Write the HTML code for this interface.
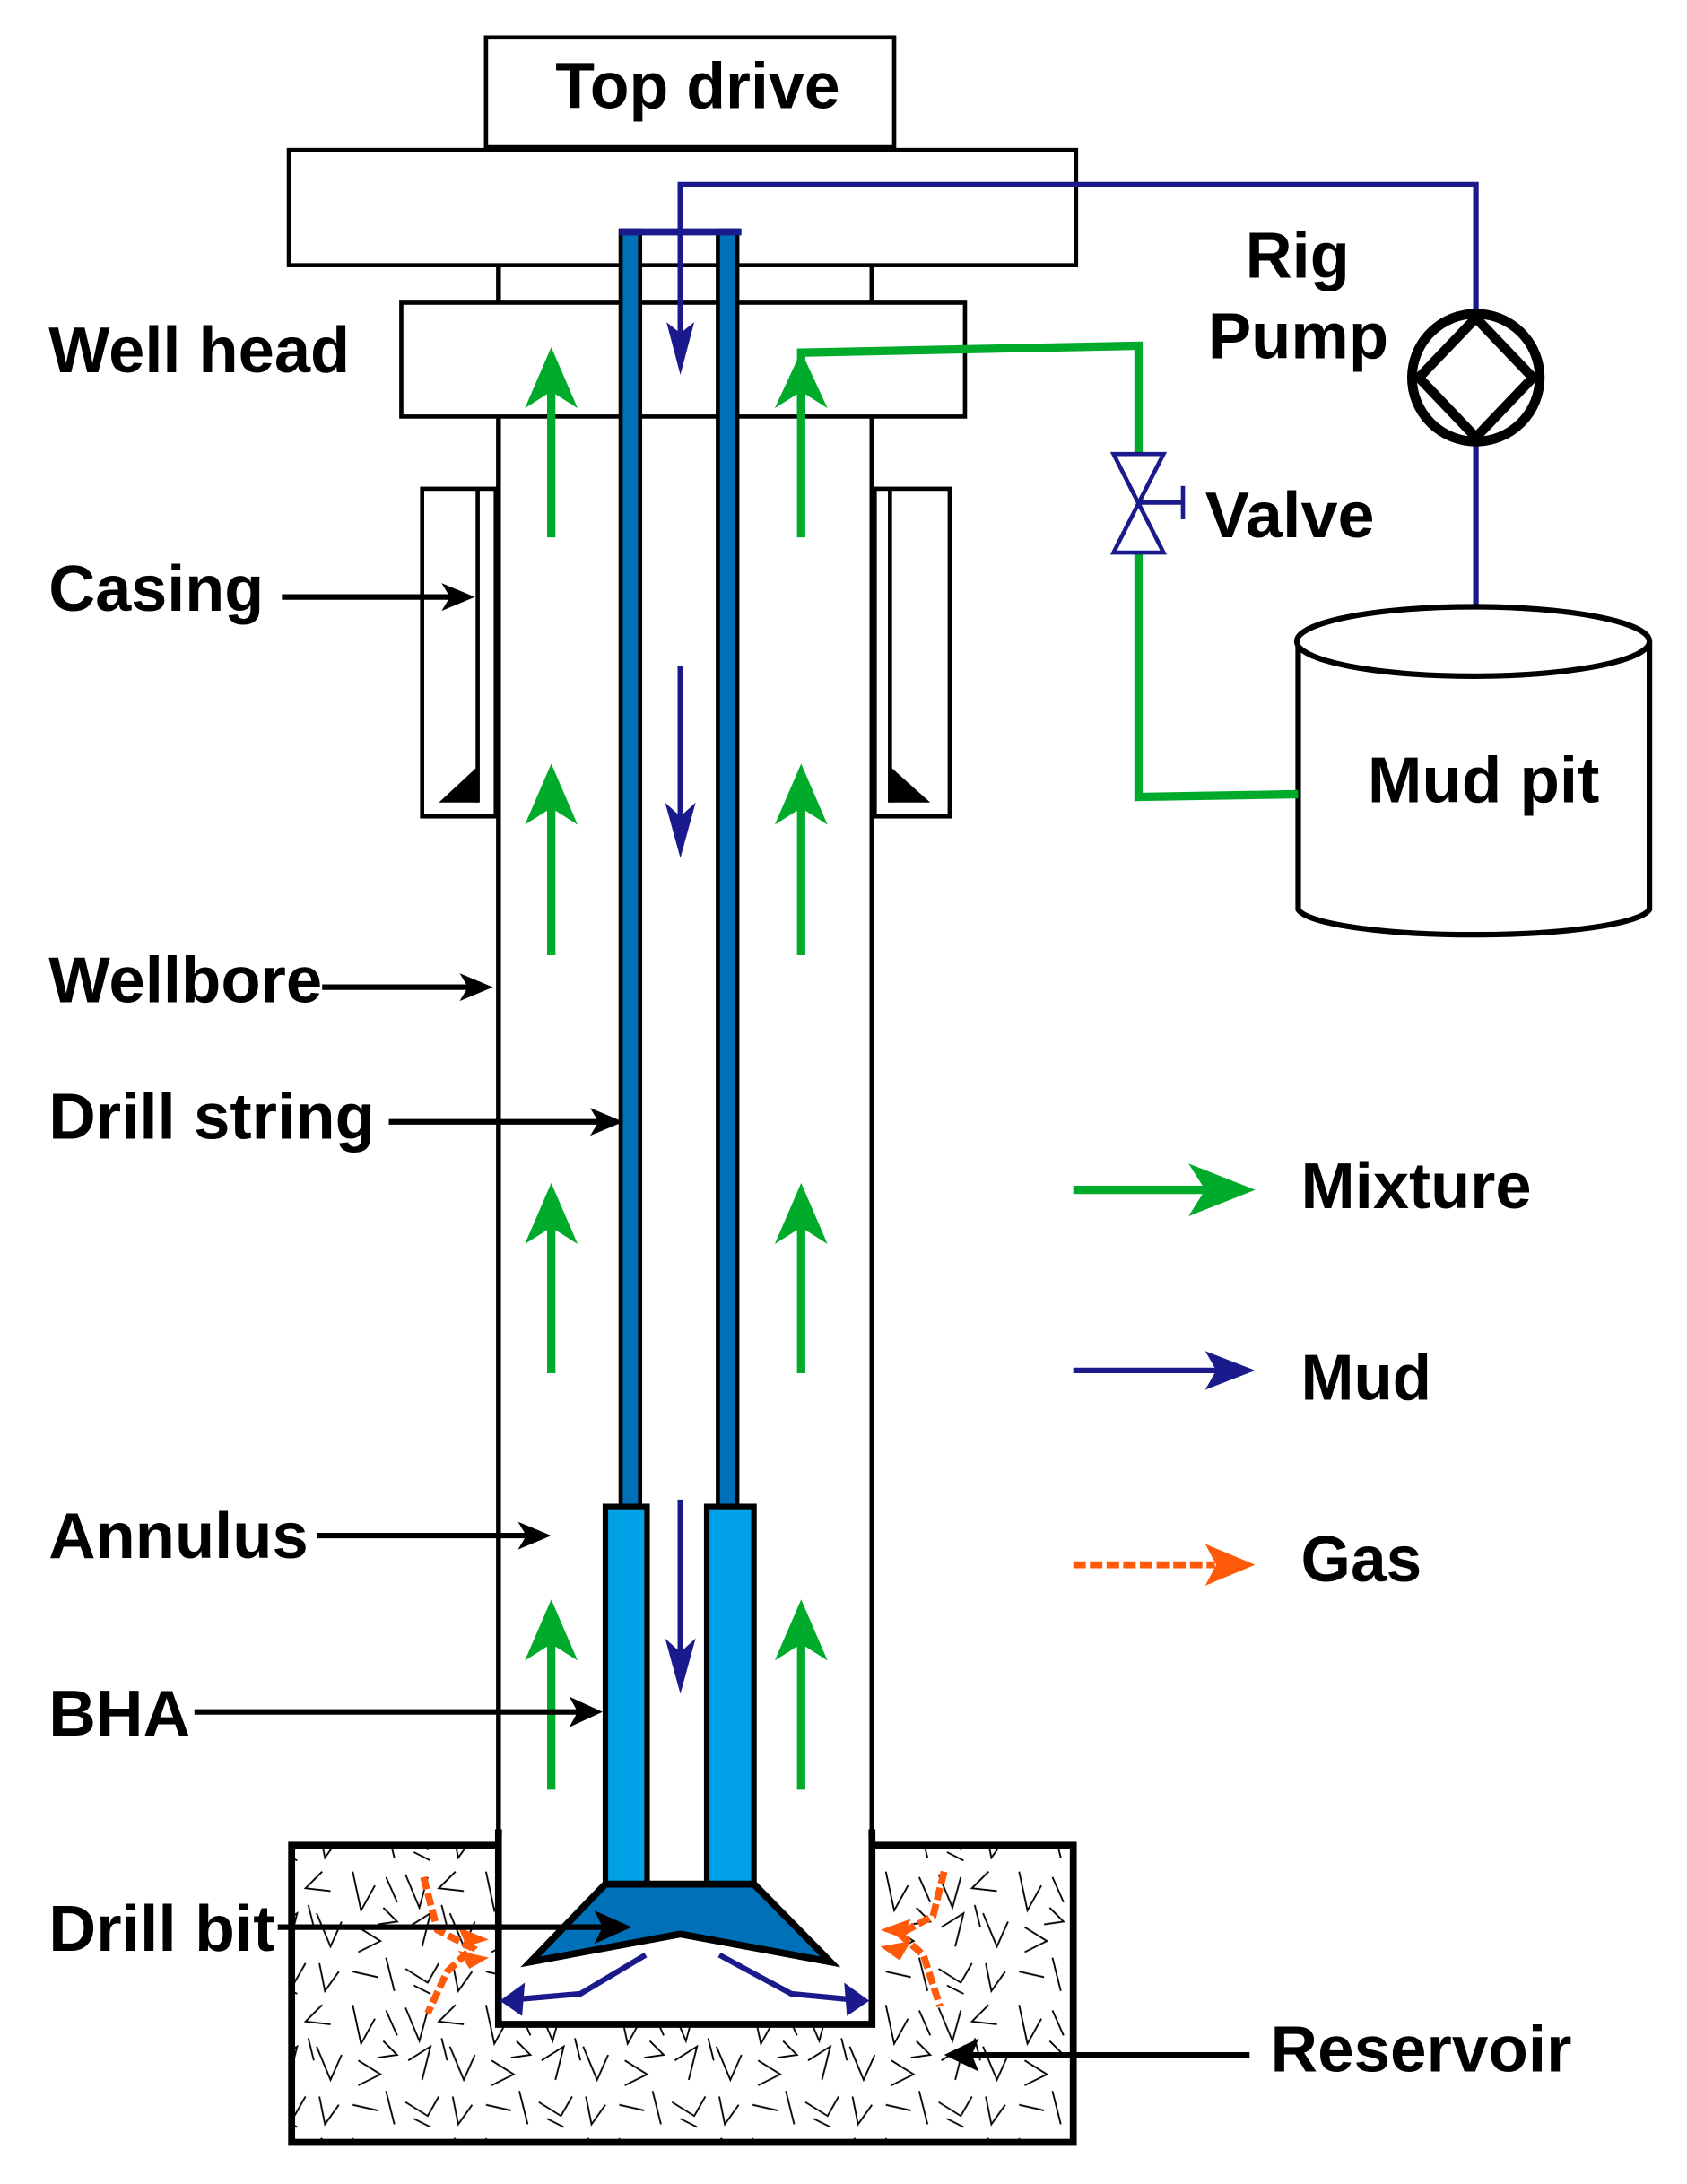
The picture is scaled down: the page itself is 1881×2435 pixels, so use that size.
<!DOCTYPE html>
<html><head><meta charset="utf-8"><style>html,body{margin:0;padding:0;background:#fff}svg{display:block}</style></head>
<body>
<svg width="1881" height="2435" viewBox="0 0 1215 1573" xmlns="http://www.w3.org/2000/svg">
<defs>
<pattern id="rock" width="96" height="96" patternUnits="userSpaceOnUse">
<g fill="none" stroke="#000" stroke-width="1.2">
<path d="M4 6 L14 30 L20 8"/><path d="M40 4 L28 16 L46 18"/><path d="M62 4 L68 32 L78 14"/>
<path d="M86 8 L94 26"/>
<path d="M6 44 L22 34 L16 58"/><path d="M36 34 L46 58 L54 40"/><path d="M66 44 L82 54 L66 62"/>
<path d="M4 74 L20 84 L28 70"/><path d="M38 70 L42 90 L52 76"/><path d="M62 76 L80 80"/>
<path d="M30 28 L34 44"/><path d="M84 30 L94 40 L80 42"/><path d="M86 66 L92 90"/>
<path d="M22 92 L10 86"/>
</g>
</pattern>
</defs>
<g font-family="'Liberation Sans Narrow','Liberation Sans',sans-serif" font-weight="bold" font-size="47" fill="#000">
<!-- reservoir -->
<rect x="210" y="1329" width="563" height="214" fill="url(#rock)" stroke="#000" stroke-width="5"/>
<rect x="359" y="1320" width="269" height="138" fill="#fff" stroke="#000" stroke-width="5"/>
<rect x="361.5" y="1300" width="264" height="155" fill="#fff"/>
<!-- top drive -->
<rect x="350" y="27" width="294" height="79" fill="#fff" stroke="#000" stroke-width="3"/>
<text x="400" y="78" textLength="205" lengthAdjust="spacingAndGlyphs">Top drive</text>
<rect x="208" y="108" width="567" height="83" fill="#fff" stroke="#000" stroke-width="3"/>
<!-- wellbore walls -->
<line x1="359" y1="191" x2="359" y2="1458" stroke="#000" stroke-width="3.5"/>
<line x1="628" y1="191" x2="628" y2="1458" stroke="#000" stroke-width="3.5"/>
<!-- well head -->
<rect x="289" y="218" width="406" height="82" fill="#fff" stroke="#000" stroke-width="3"/>
<!-- casing -->
<rect x="304" y="352" width="53" height="236" fill="#fff" stroke="#000" stroke-width="3"/>
<line x1="344" y1="352" x2="344" y2="578" stroke="#000" stroke-width="3"/>
<path d="M344 552 L344 578 L316 578 Z" fill="#000"/>
<rect x="630" y="352" width="54" height="236" fill="#fff" stroke="#000" stroke-width="3"/>
<line x1="641" y1="352" x2="641" y2="578" stroke="#000" stroke-width="3"/>
<path d="M641 552 L641 578 L670 578 Z" fill="#000"/>
<!-- drill string -->
<rect x="447" y="166" width="14" height="919" fill="#0070b8" stroke="#000" stroke-width="3"/>
<rect x="517" y="166" width="14" height="919" fill="#0070b8" stroke="#000" stroke-width="3"/>
<line x1="446" y1="167" x2="534" y2="167" stroke="#1a1a8c" stroke-width="5"/>
<!-- BHA -->
<rect x="436" y="1085" width="30" height="272" fill="#00a0e6" stroke="#000" stroke-width="4"/>
<rect x="509" y="1085" width="34" height="272" fill="#00a0e6" stroke="#000" stroke-width="4"/>
<path d="M436 1357 L543 1357 L598 1413 L490 1393 L382 1413 Z" fill="#0070b8" stroke="#000" stroke-width="5" stroke-linejoin="miter"/>
<!-- navy lines -->
<g stroke="#1a1a8c" stroke-width="4" fill="none">
<path d="M490 245 L490 133 L1063 133 L1063 224"/>
<path d="M1063 320 L1063 437"/>
<line x1="490" y1="480" x2="490" y2="595"/>
<line x1="490" y1="1080" x2="490" y2="1197"/>
<path d="M465 1408 L418 1436 L372 1440"/>
<path d="M518 1408 L570 1436 L612 1440"/>
<line x1="773" y1="987" x2="880" y2="987"/>
</g>
<g fill="#1a1a8c">
<path d="M490 270 L480 232 L490 240 L500 232 Z"/>
<path d="M490 618 L479 578 L490 588 L501 578 Z"/>
<path d="M490 1220 L479 1180 L490 1190 L501 1180 Z"/>
<path d="M360 1441 L378 1428 L376 1452 Z"/>
<path d="M626 1441 L608 1428 L610 1452 Z"/>
<path d="M904 987 L868 973 L876 987 L868 1001 Z"/>
</g>
<!-- pump -->
<circle cx="1063" cy="272" r="46" fill="#fff" stroke="#000" stroke-width="7"/>
<path d="M1063 229 L1104 272 L1063 315 L1022 272 Z" fill="none" stroke="#000" stroke-width="7"/>
<!-- mud pit -->
<path d="M935 462 L935 655 A127 20 0 0 0 1188 655 L1188 462" fill="#fff" stroke="#000" stroke-width="4"/>
<ellipse cx="1061" cy="462" rx="127" ry="25" fill="#fff" stroke="#000" stroke-width="4"/>
<!-- green lines -->
<g stroke="#00aa2a" stroke-width="6" fill="none">
<path d="M577 300 L577 254 L820 249 L820 330"/>
<path d="M820 396 L820 574 L935 572"/>
<line x1="397" y1="280" x2="397" y2="387"/><line x1="577" y1="280" x2="577" y2="387"/>
<line x1="397" y1="580" x2="397" y2="688"/><line x1="577" y1="580" x2="577" y2="688"/>
<line x1="397" y1="882" x2="397" y2="989"/><line x1="577" y1="882" x2="577" y2="989"/>
<line x1="397" y1="1182" x2="397" y2="1289"/><line x1="577" y1="1182" x2="577" y2="1289"/>
<line x1="773" y1="857" x2="870" y2="857"/>
</g>
<g fill="#00aa2a">
<path d="M397 250 L378 294 L397 282 L416 294 Z"/><path d="M577 253 L558 294 L577 282 L596 294 Z"/>
<path d="M397 550 L378 594 L397 582 L416 594 Z"/><path d="M577 550 L558 594 L577 582 L596 594 Z"/>
<path d="M397 852 L378 896 L397 884 L416 896 Z"/><path d="M577 852 L558 896 L577 884 L596 896 Z"/>
<path d="M397 1152 L378 1196 L397 1184 L416 1196 Z"/><path d="M577 1152 L558 1196 L577 1184 L596 1196 Z"/>
<path d="M904 857 L856 838 L868 857 L856 876 Z"/>
</g>
<!-- valve -->
<path d="M802 327 L838 327 L802 398 L838 398 Z" fill="#fff" stroke="#1a1a8c" stroke-width="3"/>
<line x1="820" y1="362" x2="852" y2="362" stroke="#1a1a8c" stroke-width="3"/>
<line x1="852" y1="350" x2="852" y2="374" stroke="#1a1a8c" stroke-width="3"/>
<!-- gas -->
<g stroke="#ff5a0a" stroke-width="5" fill="none" stroke-dasharray="9 3">
<path d="M305 1352 L315 1390 L340 1403 L322 1420 L308 1450"/>
<path d="M680 1348 L672 1380 L648 1393 L665 1408 L677 1445"/>
<line x1="773" y1="1127" x2="875" y2="1127"/>
</g>
<g fill="#ff5a0a">
<path d="M352 1397 L330 1388 L336 1402 Z"/><path d="M352 1410 L330 1405 L338 1418 Z"/>
<path d="M634 1390 L656 1382 L650 1396 Z"/><path d="M634 1402 L656 1398 L648 1412 Z"/>
<path d="M904 1127 L868 1112 L876 1127 L868 1142 Z"/>
</g>
<!-- label arrows -->
<g stroke="#000" stroke-width="4">
<line x1="203" y1="430" x2="330" y2="430"/>
<line x1="232" y1="711" x2="343" y2="711"/>
<line x1="280" y1="808" x2="437" y2="808"/>
<line x1="228" y1="1106" x2="385" y2="1106"/>
<line x1="140" y1="1233" x2="422" y2="1233"/>
<line x1="200" y1="1388" x2="440" y2="1388"/>
<line x1="900" y1="1480" x2="692" y2="1480"/>
</g>
<g fill="#000">
<path d="M342 430 L318 420 L324 430 L318 440 Z"/>
<path d="M355 711 L331 701 L337 711 L331 721 Z"/>
<path d="M449 808 L425 798 L431 808 L425 818 Z"/>
<path d="M397 1106 L373 1096 L379 1106 L373 1116 Z"/>
<path d="M434 1233 L410 1222 L416 1233 L410 1244 Z"/>
<path d="M455 1388 L428 1376 L434 1388 L428 1400 Z"/>
<path d="M680 1480 L705 1468 L700 1480 L705 1492 Z"/>
</g>
<!-- labels -->
<text x="35" y="268" textLength="217" lengthAdjust="spacingAndGlyphs">Well head</text>
<text x="35" y="440" textLength="155" lengthAdjust="spacingAndGlyphs">Casing</text>
<text x="35" y="722" textLength="197" lengthAdjust="spacingAndGlyphs">Wellbore</text>
<text x="35" y="820" textLength="235" lengthAdjust="spacingAndGlyphs">Drill string</text>
<text x="35" y="1122" textLength="187" lengthAdjust="spacingAndGlyphs">Annulus</text>
<text x="35" y="1250" textLength="102" lengthAdjust="spacingAndGlyphs">BHA</text>
<text x="35" y="1405" textLength="163" lengthAdjust="spacingAndGlyphs">Drill bit</text>
<text x="915" y="1492" textLength="217" lengthAdjust="spacingAndGlyphs">Reservoir</text>
<text x="897" y="200" textLength="75" lengthAdjust="spacingAndGlyphs">Rig</text>
<text x="870" y="258" textLength="130" lengthAdjust="spacingAndGlyphs">Pump</text>
<text x="868" y="387" textLength="122" lengthAdjust="spacingAndGlyphs">Valve</text>
<text x="985" y="578" textLength="167" lengthAdjust="spacingAndGlyphs">Mud pit</text>
<text x="937" y="870" textLength="166" lengthAdjust="spacingAndGlyphs">Mixture</text>
<text x="937" y="1008" textLength="94" lengthAdjust="spacingAndGlyphs">Mud</text>
<text x="937" y="1139" textLength="87" lengthAdjust="spacingAndGlyphs">Gas</text>
</g>
</svg>
</body></html>
